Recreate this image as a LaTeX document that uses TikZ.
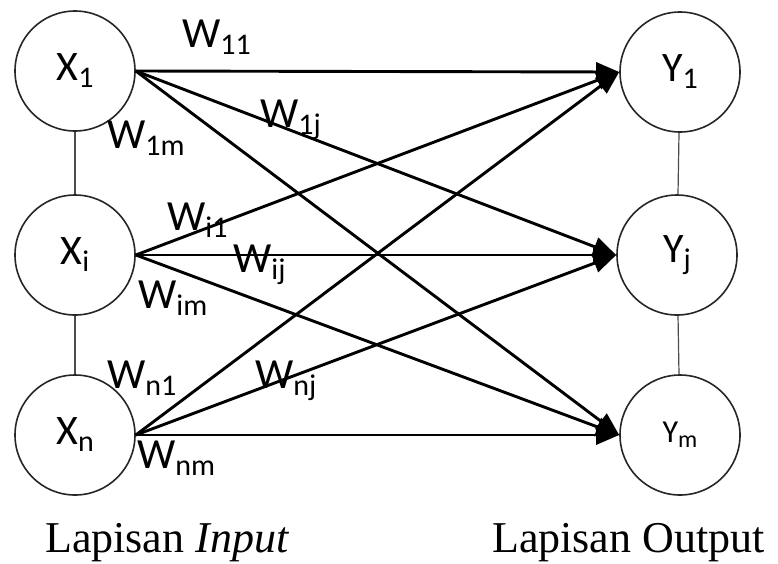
\documentclass[tikz,border=0pt]{standalone}
\usepackage{fontspec}
\setmainfont{Liberation Serif}
\newfontfamily\calib{Carlito}
\usetikzlibrary{arrows.meta}
\newcommand\sbs[1]{\raisebox{-7pt}{\fontsize{30}{30}\selectfont #1}}
\newcommand\sbsm[1]{\raisebox{-5pt}{\fontsize{24}{24}\selectfont #1}}
\tikzset{
  neuron/.style={circle,draw=black!85,line width=1.6pt,minimum size=120pt,inner sep=0pt,font=\calib\fontsize{42}{42}\selectfont},
  link/.style={draw=black!70,line width=1.2pt},
  wedge/.style={line width=2.9pt,-{Triangle[length=23pt,width=19pt]}},
  wlab/.style={anchor=base west,inner sep=0pt,font=\calib\fontsize{43}{43}\selectfont},
  laycap/.style={anchor=base west,inner sep=0pt,font=\fontsize{44}{44}\selectfont}
}
\begin{document}
\begin{tikzpicture}[x=1pt,y=-1pt]
\useasboundingbox (0,0) rectangle (778,563);
\node[neuron] (x1) at (75,71) {X\sbs{1}};
\node[neuron] (xi) at (75,255) {X\sbs{i}};
\node[neuron] (xn) at (75,435) {X\sbs{n}};
\node[neuron] (y1) at (680,72) {Y\sbs{1}};
\node[neuron] (yj) at (677,255) {Y\sbs{j}};
\node[neuron,font=\calib\fontsize{32}{32}\selectfont] (ym) at (680,435) {Y\sbsm{m}};
\draw[link] (x1) -- (xi);
\draw[link] (xi) -- (xn);
\draw[link] (y1) -- (yj);
\draw[link] (yj) -- (ym);
\foreach \a in {x1,xi,xn}{
  \foreach \b in {y1,yj,ym}{
    \draw[wedge] (\a.east) -- (\b.west);
  }
}
\node[wlab] (w11) at (182,47) {W\sbs{11}};
\node[wlab] (w1j) at (260,127) {W\sbs{1j}};
\node[wlab] (w1m) at (107,148) {W\sbs{1m}};
\node[wlab] (wi1) at (167,230) {W\sbs{i1}};
\node[wlab] (wij) at (233,272) {W\sbs{ij}};
\node[wlab] (wim) at (138,308) {W\sbs{im}};
\node[wlab] (wn1) at (107,388) {W\sbs{n1}};
\node[wlab] (wnj) at (255,388) {W\sbs{nj}};
\node[wlab] (wnm) at (137,468) {W\sbs{nm}};
\node[laycap] (lin) at (45,552) {Lapisan \textit{Input}};
\node[laycap] (lout) at (492,552) {Lapisan Output};
\end{tikzpicture}
\end{document}
